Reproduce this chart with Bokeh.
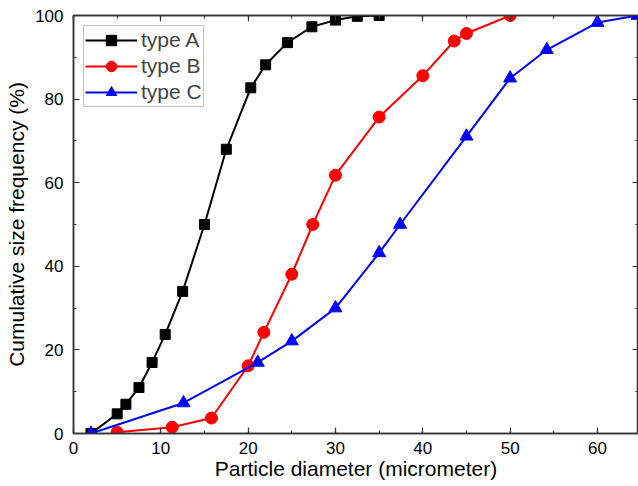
from bokeh.plotting import figure
from bokeh.models import LinearAxis, Range1d, Legend, LegendItem, FixedTicker, CustomJSTickFormatter
from bokeh.embed import file_html
from bokeh.resources import INLINE

# Data
a_x = [2, 5, 6, 7.5, 9, 10.5, 12.5, 15, 17.5, 20.3, 22, 24.5, 27.3, 30, 32.5, 35]
a_y = [0, 4.7, 7.0, 11.0, 17.0, 23.7, 34.0, 50.0, 68.0, 82.7, 88.2, 93.5, 97.3, 98.9, 99.8, 100]

b_x = [5, 11.3, 15.8, 20, 21.8, 25, 27.4, 30, 35, 40, 43.6, 45, 50]
b_y = [0.3, 1.5, 3.7, 16.2, 24.2, 38.1, 50.0, 61.8, 75.7, 85.6, 93.9, 95.7, 100]

c_x = [2, 12.6, 21.1, 25, 30, 35, 37.4, 45, 50, 54.2, 60, 64.6]
c_y = [0, 7.3, 17.0, 22.1, 30.0, 43.2, 50.0, 71.1, 85.0, 91.8, 98.3, 100]

series_names = ["type A", "type B", "type C"]
x_ticks = [0, 10, 20, 30, 40, 50, 60]
x_minor = [0, 5, 10, 15, 20, 25, 30, 35, 40, 45, 50, 55, 60, 65]
y_ticks = [0, 20, 40, 60, 80, 100]
y_minor = [0, 10, 20, 30, 40, 50, 60, 70, 80, 90, 100]

FONT = "Liberation Sans"

p = figure(width=638, height=486, x_range=Range1d(0, 64.7), y_range=Range1d(0, 100),
           output_backend="svg", toolbar_location=None,
           min_border_left=73, min_border_top=15, min_border_bottom=53, min_border_right=0)
p.xgrid.visible = False
p.ygrid.visible = False
p.outline_line_color = "#333333"
p.outline_line_width = 1.5
p.background_fill_color = "white"
p.border_fill_color = "white"

ra_l = p.line(a_x, a_y, line_color="black", line_width=2)
ra_m = p.scatter(a_x, a_y, marker="square", size=10, color="black")
rb_l = p.line(b_x, b_y, line_color="red", line_width=2)
rb_m = p.scatter(b_x, b_y, marker="circle", size=12, color="red")
rc_l = p.line(c_x, c_y, line_color="blue", line_width=2)
rc_m = p.scatter(c_x, c_y, marker="triangle", size=13, color="blue")


def style_axis(ax, labels=True):
    ax.axis_line_color = "#333333"
    ax.axis_line_width = 1.5
    ax.major_tick_in = 6
    ax.major_tick_out = 0
    ax.minor_tick_in = 3
    ax.minor_tick_out = 0
    ax.major_tick_line_color = "#333333"
    ax.minor_tick_line_color = "#333333"
    ax.major_tick_line_width = 1.2
    ax.minor_tick_line_width = 1.2
    ax.major_label_text_font = FONT
    ax.major_label_text_color = "black"
    ax.major_label_text_font_size = "17px"
    ax.axis_label_text_font = FONT
    ax.axis_label_text_font_style = "normal"
    ax.axis_label_text_color = "black"
    ax.axis_label_text_font_size = "21px"
    if not labels:
        ax.formatter = CustomJSTickFormatter(code="return ''")
        ax.major_label_standoff = 0


p.xaxis.ticker = FixedTicker(ticks=x_ticks, minor_ticks=x_minor)
p.yaxis.ticker = FixedTicker(ticks=y_ticks, minor_ticks=y_minor)
style_axis(p.xaxis[0])
style_axis(p.yaxis[0])
p.xaxis.axis_label = "Particle diameter (micrometer)"
p.yaxis.axis_label = "Cumulative size frequency (%)"
p.xaxis.major_label_standoff = 8
p.yaxis.major_label_standoff = 10
p.xaxis.axis_label_standoff = 0
p.yaxis.axis_label_standoff = 4

top = LinearAxis(ticker=FixedTicker(ticks=x_ticks, minor_ticks=x_minor))
style_axis(top, labels=False)
p.add_layout(top, "above")
right = LinearAxis(ticker=FixedTicker(ticks=y_ticks, minor_ticks=y_minor))
style_axis(right, labels=False)
p.add_layout(right, "right")

legend = Legend(items=[
    LegendItem(label=series_names[0], renderers=[ra_l, ra_m]),
    LegendItem(label=series_names[1], renderers=[rb_l, rb_m]),
    LegendItem(label=series_names[2], renderers=[rc_l, rc_m]),
], location="top_left")
legend.label_text_font = FONT
legend.label_text_font_size = "21px"
legend.border_line_color = "#888888"
legend.border_line_width = 1
legend.margin = 10
legend.padding = 1
legend.spacing = 0
legend.glyph_width = 52
legend.glyph_height = 26
legend.label_height = 26
legend.label_standoff = 4
legend.background_fill_alpha = 1
p.add_layout(legend)

open("out.html", "w").write(file_html(p, INLINE))
